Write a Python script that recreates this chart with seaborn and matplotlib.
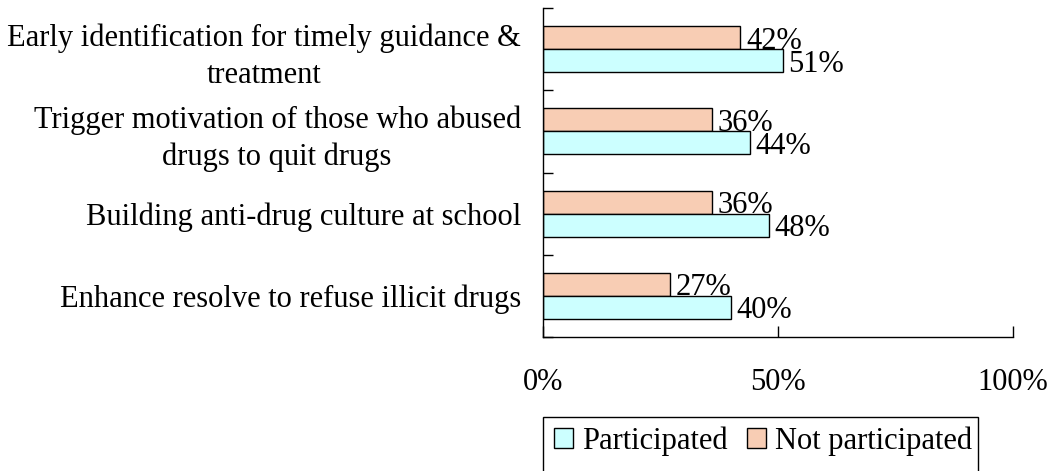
import matplotlib
matplotlib.use("Agg")
import matplotlib.pyplot as plt
import seaborn as sns
import pandas as pd
from matplotlib.patches import Patch, Rectangle
from matplotlib.ticker import FixedLocator

categories = [
    "Early identification for timely guidance &\ntreatment",
    "Trigger motivation of those who abused\ndrugs to quit drugs",
    "Building anti-drug culture at school",
    "Enhance resolve to refuse illicit drugs",
]
participated = [51, 44, 48, 40]
not_participated = [42, 36, 36, 27]
series_names = ["Participated", "Not participated"]
colors = {"Participated": "#CCFFFF", "Not participated": "#F8CDB4"}
x_ticks = [0, 50, 100]
x_ticklabels = ["0%", "50%", "100%"]

df = pd.DataFrame({
    "category": categories * 2,
    "value": participated + not_participated,
    "group": [series_names[0]] * 4 + [series_names[1]] * 4,
})

FS = 22
sns.set_theme(style="white")
plt.rcParams["font.family"] = ["Liberation Serif", "DejaVu Serif"]
plt.rcParams["font.size"] = FS
plt.rcParams["text.color"] = "black"
plt.rcParams["xtick.color"] = "black"
plt.rcParams["ytick.color"] = "black"

fig = plt.figure(figsize=(10.6, 4.71), dpi=100)
ax = fig.add_axes([543 / 1060, 1 - 337 / 471, (1013 - 543) / 1060, (337 - 8) / 471])

hue_order = ["Not participated", "Participated"]
sns.barplot(data=df, y="category", x="value", hue="group", hue_order=hue_order,
            order=categories, orient="h", palette=colors, width=0.56, saturation=1,
            edgecolor="black", linewidth=1, ax=ax, legend=False)

for cont, name in zip(ax.containers, hue_order):
    vals = participated if name == "Participated" else not_participated
    texts = ax.bar_label(cont, labels=[f"{v}%" for v in vals], padding=4,
                         fontsize=FS, color="black")
    for t in texts:
        t.set_va("center_baseline")

ax.set_xlim(0, 100)
ax.set_ylim(3.5, -0.5)
ax.set_xticks(x_ticks)
ax.set_xticklabels(x_ticklabels, fontsize=FS)
ax.yaxis.set_minor_locator(FixedLocator([-0.5, 0.5, 1.5, 2.5, 3.5]))
ax.tick_params(axis="y", which="major", length=0, pad=16, labelsize=FS)
ax.tick_params(axis="y", which="minor", direction="in", length=7, width=1,
               color="black", left=True)
ax.tick_params(axis="x", which="major", direction="in", length=8, width=1,
               color="black", pad=22, bottom=True)
for lab in ax.get_yticklabels():
    lab.set_multialignment("center")
    lab.set_linespacing(1.35)
ax.set_xlabel("")
ax.set_ylabel("")
for s in ["top", "right"]:
    ax.spines[s].set_visible(False)
for s in ["left", "bottom"]:
    ax.spines[s].set_color("black")
    ax.spines[s].set_linewidth(1)

handles = [Patch(facecolor=colors[n], edgecolor="black", linewidth=1) for n in series_names]
leg = fig.legend(handles, series_names, loc="center left",
                 bbox_to_anchor=(533 / 1060, 1 - 441 / 471), frameon=False,
                 ncol=2, fontsize=FS, handlelength=0.62, handleheight=0.62,
                 handletextpad=0.3, columnspacing=0.62, borderpad=0.2)
fig.patches.append(Rectangle((543 / 1060, -0.05), (978 - 543) / 1060,
                             (1 - 417 / 471) + 0.05, transform=fig.transFigure,
                             fill=False, edgecolor="black", linewidth=1))

fig.savefig("out.png", dpi=100)
